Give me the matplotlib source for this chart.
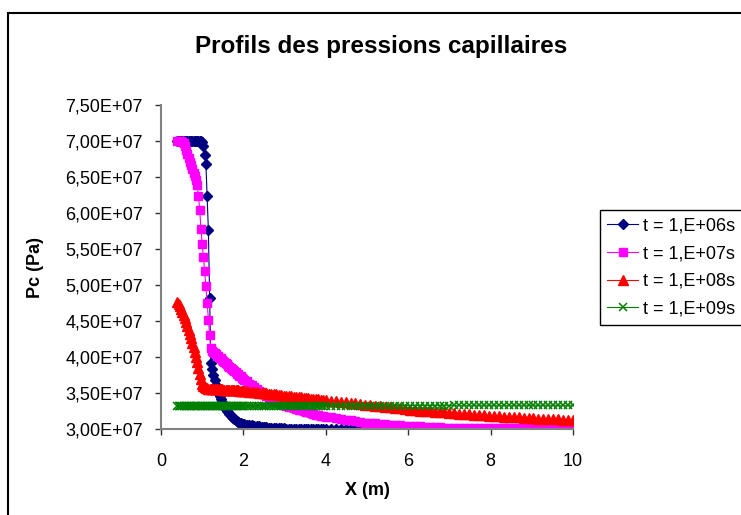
import numpy as np
import matplotlib
matplotlib.use("Agg")
import matplotlib.pyplot as plt
from matplotlib.ticker import FixedLocator, FuncFormatter
from matplotlib.patches import Rectangle

plt.rcParams['font.family'] = ['Liberation Sans', 'DejaVu Sans']

# mesh (m)
x = [0.40, 0.43, 0.46, 0.49, 0.52, 0.55, 0.58, 0.61, 0.64, 0.67,
     0.70, 0.73, 0.76, 0.79, 0.82, 0.85, 0.88, 0.91, 0.94, 0.97,
     1.00, 1.03, 1.06, 1.09, 1.12, 1.15, 1.18, 1.21, 1.24, 1.27,
     1.30, 1.33, 1.36, 1.39, 1.42, 1.45, 1.48, 1.51, 1.54, 1.57,
     1.60, 1.63, 1.66, 1.69, 1.72, 1.75, 1.78, 1.81, 1.84, 1.87,
     1.90, 1.93, 1.96, 1.99, 2.02,
     2.08, 2.14, 2.20, 2.26, 2.32, 2.38, 2.44, 2.50, 2.56, 2.62,
     2.68, 2.74, 2.80, 2.86, 2.92, 2.98, 3.04, 3.10, 3.16, 3.22,
     3.28, 3.34, 3.40, 3.46, 3.52, 3.58, 3.64, 3.70, 3.76, 3.82,
     3.88, 3.94, 4.00,
     4.12, 4.24, 4.36, 4.48, 4.60, 4.72, 4.84, 4.96, 5.08, 5.20,
     5.32, 5.44, 5.56, 5.68, 5.80, 5.92, 6.04, 6.16, 6.28, 6.40,
     6.52, 6.64, 6.76, 6.88, 7.00, 7.12, 7.24, 7.36, 7.48, 7.60,
     7.72, 7.84, 7.96, 8.08, 8.20, 8.32, 8.44, 8.56, 8.68, 8.80,
     8.92, 9.04, 9.16, 9.28, 9.40, 9.52, 9.64, 9.76, 9.88, 10.00]

# Pc in units of 1e7 Pa
pc_1e6 = [7.00, 7.00, 7.00, 7.00, 7.00, 7.00, 7.00, 7.00, 7.00, 7.00,
          7.00, 7.00, 7.00, 7.00, 7.00, 7.00, 7.00, 7.00, 7.00, 7.00,
          6.98, 6.93, 6.81, 6.68, 6.23, 5.76, 4.82, 3.92, 3.83, 3.75,
          3.68, 3.61, 3.56, 3.50, 3.46, 3.41, 3.37, 3.34, 3.31, 3.28,
          3.25, 3.23, 3.21, 3.19, 3.17, 3.15, 3.14, 3.12, 3.11, 3.10,
          3.09, 3.08, 3.075, 3.07, 3.065,
          3.06, 3.055, 3.05, 3.045, 3.04, 3.035, 3.03, 3.03, 3.025, 3.02,
          3.02, 3.015, 3.015, 3.01, 3.01, 3.01, 3.005, 3.005, 3.00, 3.00,
          3.00, 3.00, 3.00, 3.00, 3.00, 3.00, 3.00, 3.00, 3.00, 3.00,
          3.00, 3.00, 3.00,
          3.00, 3.00, 3.00, 3.00, 3.00, 3.00, 3.00, 3.00, 3.00, 3.00,
          3.00, 3.00, 3.00, 3.00, 3.00, 3.00, 3.00, 3.00, 3.00, 3.00,
          3.00, 3.00, 3.00, 3.00, 3.00, 3.00, 3.00, 3.00, 3.00, 3.00,
          3.00, 3.00, 3.00, 3.00, 3.00, 3.00, 3.00, 3.00, 3.00, 3.00,
          3.00, 3.00, 3.00, 3.00, 3.00, 3.00, 3.00, 3.00, 3.00, 3.00]

pc_1e7 = [7.00, 7.00, 7.00, 7.00, 6.99, 6.97, 6.93, 6.88, 6.82, 6.77,
          6.71, 6.66, 6.61, 6.56, 6.51, 6.46, 6.39, 6.23, 6.04, 5.78,
          5.57, 5.39, 5.19, 4.98, 4.75, 4.52, 4.30, 4.12, 4.09, 4.07,
          4.05, 4.04, 4.02, 4.01, 3.99, 3.98, 3.96, 3.95, 3.93, 3.91,
          3.90, 3.88, 3.86, 3.85, 3.83, 3.82, 3.80, 3.79, 3.77, 3.76,
          3.74, 3.73, 3.71, 3.70, 3.68,
          3.66, 3.63, 3.61, 3.58, 3.56, 3.53, 3.51, 3.48, 3.46, 3.44,
          3.42, 3.40, 3.38, 3.37, 3.35, 3.34, 3.32, 3.31, 3.30, 3.29,
          3.28, 3.27, 3.26, 3.25, 3.24, 3.23, 3.22, 3.21, 3.20, 3.19,
          3.185, 3.18, 3.17,
          3.16, 3.15, 3.14, 3.13, 3.12, 3.11, 3.10, 3.09, 3.085, 3.08,
          3.07, 3.065, 3.06, 3.055, 3.05, 3.045, 3.04, 3.04, 3.035, 3.03,
          3.03, 3.025, 3.025, 3.02, 3.02, 3.02, 3.015, 3.015, 3.015, 3.01,
          3.01, 3.01, 3.01, 3.01, 3.01, 3.01, 3.01, 3.01, 3.01, 3.01,
          3.01, 3.01, 3.01, 3.01, 3.01, 3.01, 3.01, 3.01, 3.01, 3.01]

pc_1e8 = [4.76, 4.74, 4.71, 4.67, 4.63, 4.59, 4.54, 4.49, 4.43, 4.38,
          4.32, 4.26, 4.20, 4.14, 4.07, 4.00, 3.93, 3.85, 3.77, 3.69,
          3.63, 3.60, 3.58, 3.57, 3.57, 3.56, 3.56, 3.56, 3.56, 3.555,
          3.555, 3.555, 3.55, 3.55, 3.55, 3.55, 3.55, 3.545, 3.545, 3.545,
          3.545, 3.54, 3.54, 3.54, 3.54, 3.54, 3.535, 3.535, 3.535, 3.535,
          3.53, 3.53, 3.53, 3.53, 3.53,
          3.525, 3.52, 3.515, 3.51, 3.51, 3.505, 3.50, 3.50, 3.495, 3.49,
          3.485, 3.48, 3.48, 3.475, 3.47, 3.465, 3.46, 3.46, 3.455, 3.45,
          3.445, 3.44, 3.44, 3.435, 3.43, 3.425, 3.42, 3.42, 3.415, 3.41,
          3.405, 3.40, 3.40,
          3.39, 3.385, 3.38, 3.37, 3.36, 3.355, 3.345, 3.34, 3.33, 3.32,
          3.315, 3.305, 3.30, 3.29, 3.285, 3.275, 3.27, 3.26, 3.255, 3.25,
          3.245, 3.24, 3.235, 3.23, 3.225, 3.22, 3.215, 3.21, 3.205, 3.20,
          3.195, 3.19, 3.185, 3.18, 3.175, 3.17, 3.165, 3.16, 3.16, 3.155,
          3.15, 3.15, 3.145, 3.14, 3.14, 3.135, 3.135, 3.13, 3.13, 3.125]

pc_1e9 = [3.32, 3.32, 3.32, 3.32, 3.32, 3.32, 3.32, 3.32, 3.32, 3.32,
          3.32, 3.32, 3.32, 3.32, 3.32, 3.32, 3.32, 3.32, 3.32, 3.32,
          3.32, 3.32, 3.32, 3.32, 3.32, 3.32, 3.32, 3.32, 3.32, 3.32,
          3.32, 3.32, 3.32, 3.32, 3.32, 3.32, 3.32, 3.32, 3.32, 3.32,
          3.32, 3.32, 3.32, 3.32, 3.32, 3.32, 3.32, 3.32, 3.32, 3.32,
          3.32, 3.32, 3.32, 3.32, 3.32,
          3.32, 3.32, 3.32, 3.32, 3.32, 3.32, 3.32, 3.32, 3.32, 3.32,
          3.32, 3.32, 3.32, 3.32, 3.32, 3.32, 3.32, 3.32, 3.32, 3.32,
          3.32, 3.32, 3.32, 3.32, 3.32, 3.32, 3.32, 3.32, 3.32, 3.32,
          3.32, 3.32, 3.32,
          3.325, 3.325, 3.325, 3.325, 3.325, 3.325, 3.325, 3.325, 3.325, 3.325,
          3.325, 3.325, 3.325, 3.325, 3.325, 3.325, 3.325, 3.325, 3.325, 3.325,
          3.325, 3.325, 3.325, 3.325, 3.325, 3.33, 3.33, 3.33, 3.33, 3.33,
          3.33, 3.33, 3.33, 3.33, 3.33, 3.33, 3.33, 3.33, 3.33, 3.33,
          3.33, 3.33, 3.33, 3.33, 3.33, 3.33, 3.33, 3.33, 3.33, 3.33]

labels = ['t = 1,E+06s', 't = 1,E+07s', 't = 1,E+08s', 't = 1,E+09s']
yticks = [3.0e7, 3.5e7, 4.0e7, 4.5e7, 5.0e7, 5.5e7, 6.0e7, 6.5e7, 7.0e7, 7.5e7]
xticks = [0, 2, 4, 6, 8, 10]

fig = plt.figure(figsize=(7.41, 5.15), dpi=100)
ax = fig.add_axes([161 / 741, 1 - 429 / 515, 412 / 741, 324 / 515])

xa = np.array(x)
ax.plot(xa, np.array(pc_1e6) * 1e7, color='#000080', lw=0.8,
        marker='D', ms=5, label=labels[0])
ax.plot(xa, np.array(pc_1e7) * 1e7, color='#FF00FF', lw=0.8,
        marker='s', ms=6, label=labels[1])
ax.plot(xa, np.array(pc_1e8) * 1e7, color='#FF0000', lw=0.8,
        marker='^', ms=7, label=labels[2])
ax.plot(xa, np.array(pc_1e9) * 1e7, color='#008000', lw=0.8,
        marker='x', ms=6, mew=1.1, label=labels[3])

ax.set_xlim(0, 10)
ax.set_ylim(3.0e7, 7.5e7)
ax.xaxis.set_major_locator(FixedLocator(xticks))
ax.yaxis.set_major_locator(FixedLocator(yticks))
ax.yaxis.set_major_formatter(FuncFormatter(lambda v, p: f"{v:.2E}".replace('.', ',')))

for s in ['top', 'right']:
    ax.spines[s].set_visible(False)
for s in ['left', 'bottom']:
    ax.spines[s].set_color('#808080')
    ax.spines[s].set_linewidth(1.5)

ax.tick_params(axis='y', direction='out', length=4, width=1, color='#333333',
               labelsize=13, pad=9)
ax.tick_params(axis='x', direction='out', length=4, width=1, color='#333333',
               labelsize=13, pad=13)

ax.set_ylabel('Pc (Pa)', fontsize=13, fontweight='bold')
ax.yaxis.set_label_coords(-0.285, 0.5)
ax.set_xlabel('X (m)', fontsize=13, fontweight='bold')
ax.xaxis.set_label_coords(0.5, -0.165)

fig.text(381 / 741, 1 - 47 / 515, 'Profils des pressions capillaires',
         fontsize=17.5, fontweight='bold', ha='center', va='center')

leg = ax.legend(loc='upper left', bbox_to_anchor=(600 / 741, 1 - 210 / 515),
                bbox_transform=fig.transFigure, borderaxespad=0, numpoints=1,
                fontsize=13, fancybox=False, framealpha=1, edgecolor='black',
                handlelength=1.7, handletextpad=0.3, labelspacing=0.6,
                borderpad=0.4)
leg.get_frame().set_linewidth(1)

# chart border
fig.patches.append(Rectangle((8 / 741, -0.1), 1.2, 1 - 13 / 515 + 0.1,
                             transform=fig.transFigure, fill=False,
                             edgecolor='black', lw=1.5))

fig.savefig('out.png', dpi=100)
